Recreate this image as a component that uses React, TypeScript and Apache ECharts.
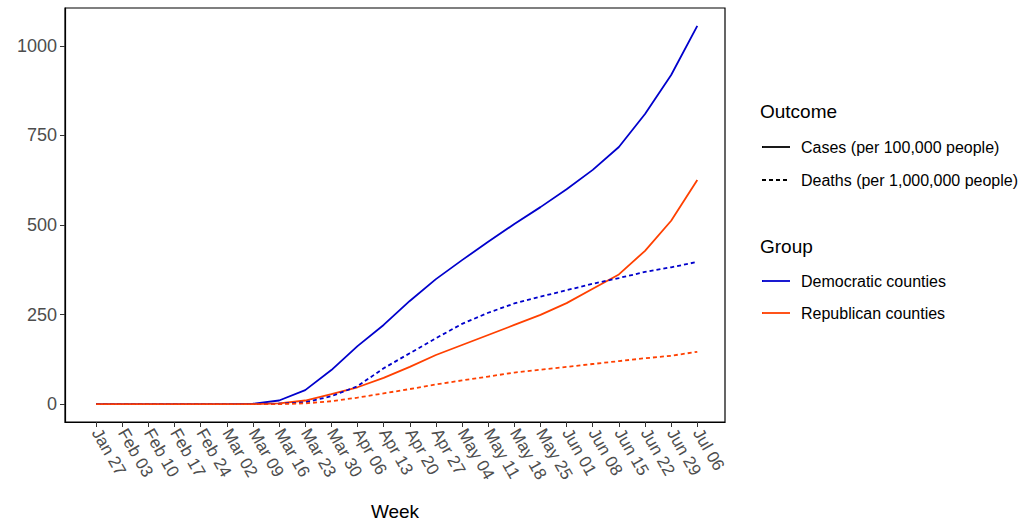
import React, { useEffect, useRef } from 'react';
import * as echarts from 'echarts';

const weeks = ['Jan 27', 'Feb 03', 'Feb 10', 'Feb 17', 'Feb 24', 'Mar 02', 'Mar 09', 'Mar 16', 'Mar 23', 'Mar 30', 'Apr 06', 'Apr 13', 'Apr 20', 'Apr 27', 'May 04', 'May 11', 'May 18', 'May 25', 'Jun 01', 'Jun 08', 'Jun 15', 'Jun 22', 'Jun 29', 'Jul 06'];
const demCases = [0, 0, 0, 0, 0, 0, 1, 10, 39, 95, 162, 221, 288, 349, 402, 453, 503, 550, 600, 654, 718, 810, 919, 1056];
const repCases = [0, 0, 0, 0, 0, 0, 0, 2, 10, 28, 47, 73, 104, 137, 165, 193, 221, 249, 282, 322, 362, 428, 512, 626];
const demDeaths = [0, 0, 0, 0, 0, 0, 0, 1, 5, 22, 50, 100, 142, 184, 224, 255, 281, 300, 318, 336, 352, 369, 382, 397];
const repDeaths = [0, 0, 0, 0, 0, 0, 0, 0, 2, 8, 18, 30, 42, 55, 66, 77, 88, 96, 104, 112, 120, 128, 135, 146];
const yTicks = [0, 250, 500, 750, 1000];

const BLUE = '#0000cc';
const RED = '#ff4000';
const FONT = 'Liberation Sans, Arial, sans-serif';

const App = () => {
    const chartRef = useRef<HTMLDivElement>(null);

    useEffect(() => {
        if (!chartRef.current) return;
        document.body.style.margin = '0';
        const myChart = echarts.init(chartRef.current, null, { renderer: 'svg' });
        const mk = (d: number[], color: string, type: string) => ({
            type: 'line',
            data: d.map((v, i) => [i, v]),
            showSymbol: false,
            lineStyle: { color, width: 1.8, type: type === 'dotted' ? [4, 3] : 'solid' },
        });
        const legendText = (x: number, y: number, text: string, size = 16) => ({
            type: 'text', x, y, style: { text, fontSize: size, fontFamily: FONT, fill: '#000', textVerticalAlign: 'middle' },
        });
        const legendLine = (y: number, color: string, dash?: number[]) => ({
            type: 'line', shape: { x1: 762, y1: y, x2: 790, y2: y },
            style: { stroke: color, lineWidth: 1.8, lineDash: dash },
        });
        myChart.setOption({
            animation: false,
            textStyle: { fontFamily: FONT },
            grid: { left: 65, right: 308, top: 8, bottom: 103, outerBoundsMode: 'none', containLabel: false },
            xAxis: {
                type: 'value', min: -1.19, max: 24.06,
                name: 'Week', nameLocation: 'middle', nameGap: 80,
                nameTextStyle: { fontSize: 19, color: '#000', fontFamily: FONT },
                splitLine: { show: false },
                axisLine: { show: true, onZero: false, lineStyle: { color: '#000', width: 1.2 } },
                axisTick: { show: true, customValues: weeks.map((_, i) => i), length: 5, lineStyle: { color: '#333' } },
                axisLabel: {
                    customValues: weeks.map((_, i) => i), rotate: -60, fontSize: 17, color: '#4d4d4d',
                    formatter: (v: number) => weeks[Math.round(v)] ?? '', margin: 8,
                },
            },
            yAxis: {
                type: 'value', min: -50, max: 1106,
                splitLine: { show: false },
                axisLine: { show: true, onZero: false, lineStyle: { color: '#000', width: 1.2 } },
                axisTick: { show: true, customValues: yTicks, length: 5, lineStyle: { color: '#333' } },
                axisLabel: { customValues: yTicks, fontSize: 18, color: '#4d4d4d', formatter: (v: number) => String(v) },
            },
            graphic: [
                { type: 'rect', shape: { x: 65, y: 8, width: 660, height: 414 }, style: { fill: 'none', stroke: '#000', lineWidth: 1.2 }, silent: true },
                legendText(760, 111, 'Outcome', 19),
                legendLine(147, '#000'),
                legendText(801, 147, 'Cases (per 100,000 people)'),
                legendLine(180, '#000', [4, 3]),
                legendText(801, 180, 'Deaths (per 1,000,000 people)'),
                legendText(760, 246, 'Group', 19),
                legendLine(281, BLUE),
                legendText(801, 281, 'Democratic counties'),
                legendLine(313, RED),
                legendText(801, 313, 'Republican counties'),
            ],
            series: [
                mk(demCases, BLUE, 'solid'),
                mk(repCases, RED, 'solid'),
                mk(demDeaths, BLUE, 'dotted'),
                mk(repDeaths, RED, 'dotted'),
            ],
        });
        return () => {
            myChart.dispose();
        };
    }, []);

    return <div ref={chartRef} style={{ width: '1033px', height: '525px' }} />;
};

export default App;
